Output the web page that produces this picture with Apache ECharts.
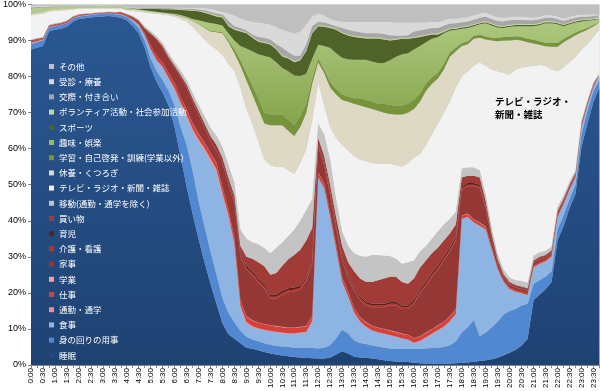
<!DOCTYPE html>
<html><head><meta charset="utf-8">
<script src="https://cdn.jsdelivr.net/npm/echarts@6/dist/echarts.min.js"></script>
<style>html,body{margin:0;padding:0;background:#fff}#c{width:600px;height:391px}</style>
</head><body><div id="c"></div>
<script>
const times = ["0:00","0:15","0:30","0:45","1:00","1:15","1:30","1:45","2:00","2:15","2:30","2:45","3:00","3:15","3:30","3:45",
"4:00","4:15","4:30","4:45","5:00","5:15","5:30","5:45","6:00","6:15","6:30","6:45","7:00","7:15","7:30","7:45",
"8:00","8:15","8:30","8:45","9:00","9:15","9:30","9:45","10:00","10:15","10:30","10:45","11:00","11:15","11:30","11:45",
"12:00","12:15","12:30","12:45","13:00","13:15","13:30","13:45","14:00","14:15","14:30","14:45","15:00","15:15","15:30","15:45",
"16:00","16:15","16:30","16:45","17:00","17:15","17:30","17:45","18:00","18:15","18:30","18:45","19:00","19:15","19:30","19:45",
"20:00","20:15","20:30","20:45","21:00","21:15","21:30","21:45","22:00","22:15","22:30","22:45","23:00","23:15","23:30","23:45"];

const yTicks = [0,10,20,30,40,50,60,70,80,90,100];

const names = ["睡眠","身の回りの用事","食事","通勤・通学","仕事","学業","家事","介護・看護","育児","買い物",
"移動(通勤・通学を除く)","テレビ・ラジオ・新聞・雑誌","休養・くつろぎ","学習・自己啓発・訓練(学業以外)","趣味・娯楽",
"スポーツ","ボランティア活動・社会参加活動","交際・付き合い","受診・療養","その他"];

const sleep = [87.5,88.0,88.5,92.5,93.0,93.3,93.8,95.2,96.0,96.2,96.4,96.6,96.7,96.8,96.6,96.3,
95.6,94.0,92.0,88.0,82.5,78.5,75.5,72.0,66.0,58.0,49.5,42.0,35.0,28.5,22.5,17.0,
11.5,8.5,7.3,6.0,4.8,4.5,4.1,3.6,3.2,2.9,2.6,2.4,2.2,2.1,2.0,1.9,
1.8,1.8,2.0,2.9,3.8,3.2,2.3,2.1,2.0,1.8,1.6,1.3,1.1,1.0,0.9,0.8,
0.6,0.5,0.4,0.4,0.3,0.3,0.4,0.5,0.6,0.7,0.9,1.1,1.3,1.6,2.0,2.7,
3.4,4.2,5.4,7.3,18.0,19.5,21.0,23.0,34.5,38.5,43.5,47.5,60.5,67.0,73.0,77.0];
const personal = [1.5,1.5,1.5,1.0,1.0,1.0,1.0,0.8,0.7,0.7,0.7,0.7,0.7,0.7,0.7,0.8,
0.9,1.2,1.5,2.0,2.5,3.0,3.5,4.0,6.0,8.0,11.5,12.0,10.5,10.0,9.0,8.0,
7.0,6.0,4.5,3.5,3.0,2.6,2.5,2.4,2.4,2.4,2.5,2.6,2.6,2.7,2.8,2.8,
2.8,3.0,3.5,4.5,6.0,5.5,4.5,4.0,3.8,3.6,3.5,3.5,3.5,3.5,3.5,3.6,
3.8,4.0,4.2,4.3,4.5,4.7,5.1,6.0,8.4,9.8,11.6,6.9,7.7,8.9,10.0,11.3,
11.6,11.3,11.1,9.7,4.5,4.0,3.5,3.0,3.0,3.0,2.5,2.5,3.5,3.5,3.0,2.0];
const meal = [0.3,0.2,0.2,0.1,0.1,0.1,0.1,0.1,0.1,0.1,0.1,0.1,0.1,0.1,0.1,0.1,
0.2,0.5,0.9,1.5,2.5,3.0,3.5,3.5,4.5,6.5,8.0,11.0,16.5,21.0,25.0,28.5,
28.5,26.5,21.2,6.5,3.7,3.4,3.4,3.6,3.7,3.7,3.7,3.6,3.8,4.0,4.2,7.3,
47.4,44.2,35.5,24.6,13.2,10.3,7.7,5.9,4.7,4.1,3.9,3.8,3.6,3.3,2.9,2.6,
1.6,2.0,2.9,3.8,4.7,5.5,6.5,7.5,31.5,30.5,27.0,30.5,28.5,21.5,14.5,9.0,
6.0,4.7,3.3,2.3,4.5,4.5,4.2,4.0,3.5,3.0,2.5,2.0,2.0,1.5,1.2,1.0];
const commute = [0.1,0.1,0.1,0.1,0,0,0,0,0,0,0,0,0,0,0,0.1,
0,0,0,0,0.1,0.1,0.2,0.2,0.3,0.3,0.4,0.5,0.6,0.7,0.8,0.9,
0.8,0.7,0.6,0.5,0.4,0.3,0.2,0.2,0.2,0.2,0.2,0.2,0.2,0.2,0.2,0.2,
0.1,0.1,0.1,0.1,0.1,0.1,0.1,0.1,0.1,0.1,0.1,0.1,0.1,0.1,0.1,0.1,
0.2,0.2,0.2,0.2,0.2,0.2,0.2,0.2,0.1,0.1,0.1,0.1,0.1,0.1,0.1,0.1,
0.1,0.1,0.1,0.1,0.1,0.1,0.1,0.1,0.1,0.1,0.1,0.1,0.1,0.1,0,0];
const work = [0.4,0.4,0.3,0.3,0.3,0.3,0.3,0.3,0.2,0.2,0.2,0.2,0.2,0.2,0.2,0.3,
0.3,0.4,0.5,0.7,1.0,1.2,1.3,1.4,1.5,1.5,1.5,1.5,1.5,1.5,1.5,1.5,
1.5,1.5,1.5,1.5,1.5,1.5,1.5,1.5,1.5,1.5,1.5,1.5,1.5,1.5,1.5,1.5,
1.2,1.2,1.2,1.2,1.2,1.2,1.2,1.2,1.2,1.2,1.2,1.2,1.2,1.2,1.2,1.2,
1.2,1.2,1.2,1.2,1.2,1.2,1.2,1.2,0.8,0.8,0.8,0.8,0.7,0.6,0.5,0.4,
0.4,0.4,0.4,0.4,0.4,0.4,0.4,0.4,0.4,0.4,0.4,0.4,0.4,0.4,0.4,0.4];
const school = [0,0,0,0,0,0,0,0,0,0,0,0,0,0,0,0,
0,0,0,0,0,0,0,0,0,0,0.1,0.1,0.1,0.1,0.1,0.1,
0.1,0.1,0.1,0.1,0.1,0.1,0.1,0.1,0.1,0.1,0.1,0.1,0.1,0.1,0.1,0.1,
0.1,0.1,0.1,0.1,0.1,0.1,0.1,0.1,0.1,0.1,0.1,0.1,0.1,0.1,0.1,0.1,
0.1,0.1,0.1,0.1,0.1,0.1,0.1,0.1,0.1,0.1,0.1,0.1,0.1,0.1,0,0,
0,0,0,0,0,0,0,0,0,0,0,0,0,0,0,0];
const housework = [0.2,0.2,0.1,0.1,0.1,0.1,0.1,0.1,0.1,0.1,0.1,0.1,0.1,0.1,0.2,0.2,
0.2,0.4,0.5,1.1,3.1,4.4,4.1,3.9,4.2,5.5,6.0,6.0,5.2,4.0,3.3,3.5,
6.5,6.8,9.5,12.0,12.9,12.5,11.1,9.9,7.3,7.6,8.8,9.8,10.0,10.3,12.6,14.1,
7.1,5.1,4.6,4.1,4.6,3.6,4.6,4.6,4.6,5.1,5.6,6.0,6.9,7.3,6.8,7.1,
9.4,11.9,12.9,14.4,15.4,16.9,17.9,18.9,7.1,7.6,9.1,9.6,4.8,2.1,1.1,0.8,
0.7,0.7,0.7,0.7,0.7,0.7,0.6,0.6,0.6,0.6,0.5,0.5,0.4,0.3,0.2,0.1];
const nursing = [0.1,0.1,0.1,0.1,0.1,0.1,0.1,0.1,0.1,0.1,0,0,0,0,0,0.1,
0.1,0.1,0.1,0.1,0.2,0.2,0.2,0.3,0.3,0.3,0.4,0.4,0.5,0.5,0.5,0.5,
0.5,0.5,0.5,0.5,0.5,0.5,0.5,0.5,0.5,0.5,0.5,0.5,0.5,0.5,0.5,0.5,
0.5,0.5,0.5,0.5,0.5,0.5,0.5,0.5,0.5,0.5,0.5,0.5,0.5,0.5,0.5,0.5,
0.5,0.5,0.5,0.5,0.5,0.5,0.5,0.5,0.4,0.4,0.4,0.4,0.4,0.3,0.3,0.3,
0.3,0.3,0.3,0.3,0.3,0.3,0.3,0.3,0.3,0.3,0.3,0.2,0.2,0.1,0.1,0.1];
const childcare = [0,0,0,0,0,0,0,0,0,0,0,0,0,0,0,0,
0,0,0,0.1,0.1,0.1,0.2,0.2,0.2,0.3,0.3,0.4,0.4,0.5,0.5,0.6,
0.6,0.6,0.6,0.6,0.6,0.6,0.6,0.6,0.6,0.6,0.6,0.6,0.6,0.6,0.6,0.6,
0.5,0.5,0.5,0.5,0.5,0.5,0.5,0.5,0.5,0.5,0.5,0.5,0.5,0.5,0.5,0.5,
0.6,0.6,0.6,0.6,0.6,0.6,0.6,0.6,0.5,0.5,0.5,0.5,0.4,0.3,0.3,0.2,
0.2,0.2,0.2,0.2,0.2,0.2,0.2,0.2,0.2,0.1,0.1,0.1,0.1,0.1,0.1,0];
const shopping = [0,0,0,0,0,0,0,0,0,0,0,0,0,0,0,0,
0,0,0,0,0,0,0,0,0,0.1,0.1,0.1,0.2,0.2,0.3,0.4,
0.5,0.8,1.2,1.8,2.5,3.5,4.5,5.0,5.5,6.0,7.0,8.0,9.0,10.0,10.0,9.0,
1.5,1.5,2.0,2.5,3.0,3.5,4.5,5.0,5.5,6.0,6.5,7.0,7.0,7.0,6.5,6.0,
6.0,6.0,6.0,5.5,5.0,4.5,4.0,3.5,2.5,2.0,2.0,2.0,1.5,1.0,0.7,0.4,
0.3,0.3,0.3,0.3,0.3,0.3,0.2,0.2,0.2,0.1,0.1,0,0,0,0,0];
const travel = [0.2,0.2,0.2,0.2,0.2,0.2,0.2,0.2,0.1,0.1,0.1,0.1,0.1,0.1,0.1,0.1,
0.2,0.3,0.4,0.5,0.6,0.7,0.8,1.0,1.0,1.2,1.3,1.5,1.7,2.0,2.3,2.6,
3.0,3.5,3.5,4.5,5.0,4.5,5.0,5.0,6.0,7.0,6.5,6.5,7.0,8.0,8.5,8.0,
4.0,6.0,7.0,5.0,4.0,4.5,5.0,6.2,7.0,7.5,7.0,6.3,5.7,5.0,5.0,6.0,
5.0,4.5,4.0,4.0,4.5,4.5,4.0,3.5,2.5,2.3,2.3,2.0,1.8,1.5,1.3,1.2,
1.2,1.3,1.5,1.5,1.3,1.3,1.2,1.1,1.0,0.9,0.8,0.7,0.6,0.5,0.4,0.4];
const tv = [6.7,6.5,6.4,3.6,3.4,3.2,2.8,1.8,1.5,1.4,1.2,1.1,1.0,0.9,0.9,0.8,
0.9,1.3,2.1,3.8,5.0,6.2,7.9,10.5,12.6,14.3,16.2,18.3,19.8,21.3,22.9,23.9,
25.5,28.0,31.0,39.5,36.0,33.0,28.5,24.6,24.5,22.5,21.0,18.2,15.5,16.0,17.0,22.0,
11.5,8.0,9.0,17.0,24.0,26.5,27.0,26.8,26.5,25.5,25.3,25.5,25.6,26.0,27.0,27.5,
28.5,27.0,28.0,29.0,30.0,31.0,32.5,34.5,25.5,26.7,28.2,30.0,35.7,44.0,50.7,54.6,
56.3,58.5,59.2,60.0,52.7,51.9,51.3,49.1,37.7,35.5,33.2,31.5,19.7,15.5,12.6,12.0];
const rest = [0.5,0.5,0.5,0.4,0.4,0.4,0.4,0.3,0.2,0.2,0.2,0.2,0.2,0.2,0.2,0.2,
0.2,0.3,0.4,0.4,0.4,0.4,0.4,0.4,0.5,0.7,0.9,1.6,2.5,3.2,3.8,4.8,
6.0,6.0,5.0,6.0,8.0,8.0,9.0,10.0,11.0,11.5,11.5,11.0,10.5,10.0,10.0,10.0,
5.5,9.0,11.0,12.0,12.5,13.5,14.5,15.0,15.0,15.0,14.7,14.2,13.8,14.0,14.5,14.0,
13.5,14.5,15.0,14.0,12.5,12.0,12.5,10.0,8.5,7.5,7.5,6.8,7.3,8.0,8.3,9.0,
9.5,8.2,7.5,6.7,6.2,5.6,5.4,6.3,6.8,7.0,6.5,6.0,4.8,4.0,3.0,1.8];
const study = [0.1,0.1,0.1,0,0,0,0,0,0,0,0,0,0,0,0,0,
0,0,0,0,0,0,0,0,0.1,0.1,0.1,0.1,0.1,0.2,0.2,0.2,
0.3,0.5,1.0,1.5,2.0,2.5,3.0,3.0,3.0,3.0,3.0,3.0,3.0,3.0,2.5,1.5,
1.0,1.0,1.5,1.5,1.5,1.5,1.5,2.0,2.0,2.0,2.0,2.5,2.5,2.5,2.5,2.5,
2.5,2.3,2.0,1.8,1.6,1.5,1.2,1.0,0.8,0.8,0.8,0.8,0.8,0.8,0.9,1.0,
1.0,1.0,1.0,1.0,1.0,1.0,1.0,1.0,1.0,0.9,0.8,0.7,0.6,0.5,0.4,0.3];
const hobby = [1.2,1.1,1.0,0.8,0.7,0.6,0.6,0.5,0.4,0.4,0.4,0.4,0.4,0.4,0.4,0.4,
0.4,0.3,0.2,0.2,0.2,0.2,0.2,0.2,0.2,0.3,0.3,0.5,1.0,1.5,2.2,2.1,
1.9,2.0,2.5,4.0,6.8,9.5,12.2,15.8,15.8,14.5,12.9,13.5,13.8,11.2,8.3,5.5,
3.8,6.5,9.5,10.0,10.2,10.3,10.7,10.7,11.2,11.2,11.3,11.3,12.4,13.5,14.2,14.0,
14.0,13.2,11.5,10.7,9.9,8.5,6.1,5.0,4.0,3.7,2.7,2.9,3.7,3.4,2.9,2.5,
2.8,2.8,3.0,3.5,3.8,4.5,5.4,5.5,5.2,3.6,3.2,2.8,2.4,2.0,1.3,0.7];
const sports = [0,0,0,0,0,0,0,0,0,0,0,0,0,0,0,0,
0,0.1,0.2,0.4,0.6,0.8,0.9,1.1,1.2,1.4,1.8,2.3,2.5,2.5,2.3,2.1,
2.2,2.0,3.0,4.0,4.2,3.8,3.5,3.5,3.6,3.5,3.2,3.5,3.7,4.3,6.2,7.0,
5.2,5.3,5.5,6.5,6.8,6.6,6.3,6.1,5.9,6.4,6.8,6.5,5.5,4.7,4.3,4.0,
3.2,2.5,1.8,1.2,0.7,0.4,0.3,0.3,0.3,0.3,0.3,0.3,0.3,0.3,0.3,0.3,
0.3,0.3,0.3,0.3,0.3,0.3,0.3,0.3,0.3,0.3,0.3,0.3,0.3,0.2,0.2,0.2];
const volunteer = [0.1,0.1,0.1,0,0,0,0,0,0,0,0,0,0,0,0,0,
0,0,0,0.1,0.1,0.1,0.1,0.1,0.1,0.2,0.2,0.2,0.2,0.3,0.3,0.3,
0.3,0.3,0.3,0.3,0.3,0.3,0.3,0.3,0.3,0.3,0.3,0.3,0.3,0.3,0.3,0.3,
0.3,0.3,0.3,0.3,0.3,0.3,0.3,0.3,0.3,0.3,0.3,0.3,0.3,0.3,0.3,0.3,
0.3,0.3,0.3,0.3,0.3,0.3,0.3,0.3,0.3,0.3,0.3,0.3,0.3,0.3,0.3,0.3,
0.3,0.3,0.3,0.3,0.3,0.3,0.3,0.3,0.3,0.3,0.3,0.3,0.3,0.3,0.3,0.3];
const social = [0.3,0.3,0.2,0.2,0.2,0.2,0.1,0.1,0.1,0.1,0.1,0.1,0.1,0.1,0.1,0.1,
0.1,0.1,0.1,0.1,0.1,0.1,0.2,0.2,0.2,0.2,0.2,0.3,0.3,0.4,0.5,0.5,
0.5,1.2,0.7,0.7,0.5,0.6,1.0,1.1,1.1,1.2,2.1,1.5,1.5,1.0,1.7,1.7,
0.9,0.9,0.7,0.7,1.2,1.3,1.3,1.2,1.1,1.1,1.1,1.2,1.2,0.8,0.5,0.7,
1.5,1.5,1.5,1.5,1.5,1.4,1.3,1.2,1.2,1.2,1.2,1.2,1.2,1.2,1.2,1.2,
1.2,1.1,1.1,1.0,1.0,1.0,0.9,0.9,0.9,0.8,0.8,0.7,0.7,0.6,0.6,0.5];
const medical = [0.3,0.3,0.3,0.2,0.2,0.2,0.2,0.2,0.2,0.2,0.2,0.2,0.2,0.2,0.2,0.2,
0.2,0.2,0.2,0.2,0.2,0.2,0.2,0.2,0.3,0.3,0.3,0.3,0.4,0.6,0.8,0.9,
0.8,2.0,3.0,2.7,2.9,3.5,4.0,4.1,4.2,4.8,5.0,5.7,6.2,6.7,5.5,2.8,
2.3,2.0,1.5,1.5,1.8,2.2,2.6,2.9,3.2,3.2,3.2,3.4,3.7,3.7,3.7,3.5,
2.5,2.3,2.0,1.8,1.6,1.5,1.4,1.3,1.2,1.2,1.2,1.2,1.2,1.1,1.1,1.1,
1.0,1.0,1.0,0.9,0.8,0.8,0.8,0.8,0.7,0.7,0.7,0.7,0.6,0.6,0.5,0.5];
const other = [0.5,0.4,0.4,0.4,0.3,0.3,0.3,0.3,0.3,0.2,0.3,0.2,0.2,0.2,0.3,0.3,
0.7,0.8,0.9,0.8,0.8,0.8,0.8,0.8,0.8,0.8,0.9,0.9,1.0,1.0,1.2,1.6,
2.0,2.5,3.0,3.8,4.3,4.8,5.0,5.2,5.5,6.2,7.0,7.5,8.0,7.5,5.5,3.2,
2.5,3.0,4.0,4.5,4.7,4.8,4.8,4.8,4.8,4.8,4.8,4.8,4.8,5.0,5.0,5.0,
5.0,4.9,4.9,4.7,4.9,4.4,3.9,3.9,3.7,3.5,3.0,2.5,2.2,2.9,3.5,3.6,
3.4,3.3,3.3,3.5,3.6,3.3,2.9,2.9,3.3,3.9,3.4,3.0,2.8,2.8,2.7,2.7];

const seriesData = [sleep,personal,meal,commute,work,school,housework,nursing,childcare,shopping,
travel,tv,rest,study,hobby,sports,volunteer,social,medical,other];
const colors = ["#24497c","#5089d1","#8db4e2","#e6928f","#d7403a","#f0a3a1","#953735","#c0302a","#5a1f1d","#a03b38",
"#c4c4c4","#f2f2f2","#ddd9c4","#77933c","#9bbb59","#4f6228","#c3d69b","#a6a6a6","#d9d9d9","#bfbfbf"];

const chart = echarts.init(document.getElementById('c'), null, {renderer:'canvas'});
const G = echarts.graphic.LinearGradient;
const fills = colors.slice();
fills[0] = new G(0,0,0,1,[{offset:0,color:'#2b5892'},{offset:1,color:'#1f4273'}]);
fills[14] = new G(0,0,0,1,[{offset:0,color:'#b2cd85'},{offset:1,color:'#86a44c'}]);

const series = names.map((n,k)=>({
  name:n, type:'line', stack:'all', data:seriesData[k], symbol:'none', showSymbol:false, silent:true,
  lineStyle:{width:0}, itemStyle:{color:colors[k]}, areaStyle:{color:fills[k], opacity:1}, animation:false
}));

chart.setOption({
  animation:false,
  grid:{left:26.7, right:0.6, top:2.5, bottom:24.5, show:true, backgroundColor:'#bfbfbf', borderWidth:0},
  xAxis:{type:'category', data:times, boundaryGap:false,
    axisLine:{lineStyle:{color:'#868686'}},
    axisTick:{interval:0, length:3, lineStyle:{color:'#868686'}},
    axisLabel:{interval:1, rotate:90, fontSize:8, color:'#000', margin:3, fontFamily:'Liberation Sans'}},
  yAxis:{type:'value', min:yTicks[0], max:yTicks[yTicks.length-1], interval:10,
    axisLine:{show:true, lineStyle:{color:'#868686'}},
    axisTick:{show:true, length:3, lineStyle:{color:'#868686'}},
    splitLine:{show:false},
    axisLabel:{formatter:'{value}%', fontSize:9, color:'#000', margin:5, fontFamily:'Liberation Sans'}},
  legend:{orient:'vertical', left:44, top:56.5, data:names.slice().reverse(), icon:'rect',
    itemWidth:5, itemHeight:5, itemGap:5.2, selectedMode:false,
    textStyle:{color:'#fff', fontSize:8.5, lineHeight:10, fontFamily:'Noto Sans CJK JP'}},
  graphic:[{type:'text', left:495, top:95, z:100,
    style:{text:'テレビ・ラジオ・\n新聞・雑誌', font:'bold 9.5px "Noto Sans CJK JP"', fill:'#000', lineHeight:13}}],
  series:series
});
</script></body></html>
